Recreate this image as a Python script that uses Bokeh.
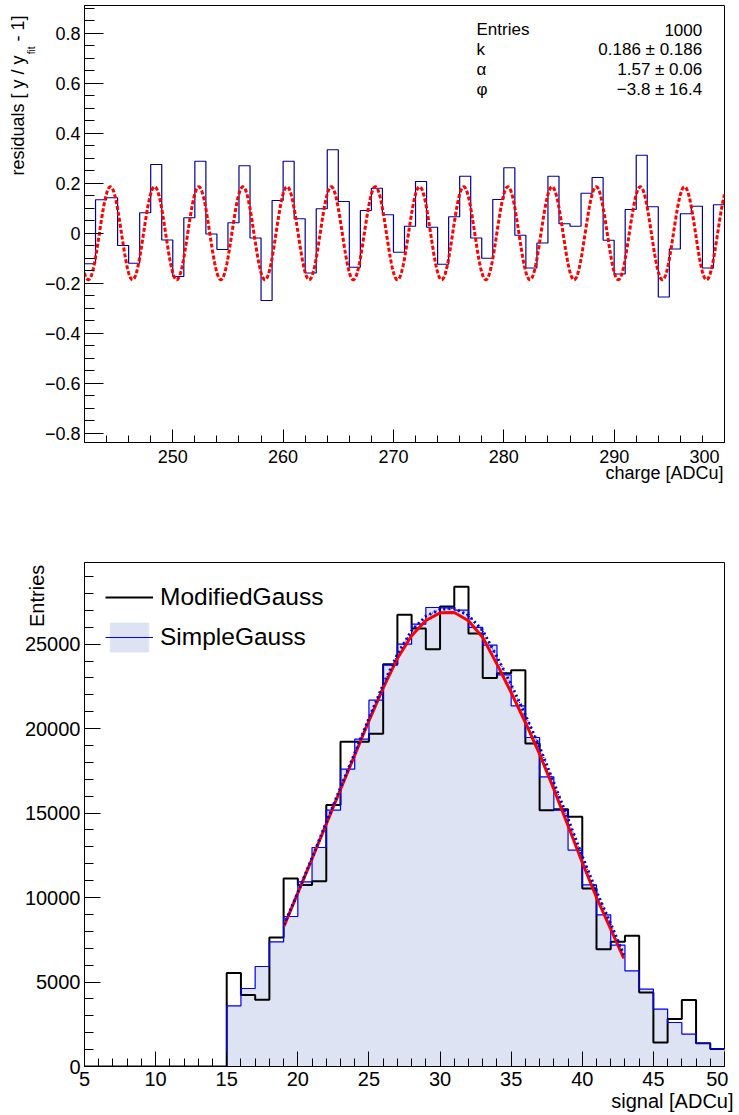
import math
from bokeh.plotting import figure
from bokeh.models import (FixedTicker, CustomJSTickFormatter, Label, Range1d,
                          Legend, LegendItem, Title)
from bokeh.layouts import column
from bokeh.embed import file_html
from bokeh.resources import INLINE

FONT = "Liberation Sans"

# ---------------- data: residual panel (top) ----------------
res_x_min = 242
res_x_max = 300
residuals = [-0.122, 0.134, 0.142, -0.049, -0.120, 0.082, 0.275, -0.027, -0.173, 0.062,
             0.288, -0.003, -0.065, 0.042, 0.270, -0.019, -0.269, 0.131, 0.288, 0.058,
             -0.159, 0.098, 0.334, 0.127, -0.136, 0.091, 0.180, 0.074, -0.076, 0.028,
             0.207, 0.024, -0.124, 0.066, 0.228, -0.019, -0.100, 0.135, 0.262, -0.008,
             -0.139, -0.039, 0.228, 0.038, 0.028, 0.160, 0.223, -0.028, -0.163, 0.095,
             0.312, 0.106, -0.255, -0.063, 0.078, 0.108, -0.139, 0.114]
stat_names = ["Entries", "k", "\u03b1", "\u03c6"]
stat_values = ["1000", "0.186 \u00b1 0.186", "1.57 \u00b1 0.06", "\u22123.8 \u00b1 16.4"]
fit_k = 0.186          # amplitude of the fitted modulation
fit_alpha = 1.57       # angular frequency of the fitted modulation
fit_peak_x = 244.35    # a maximum of the fitted curve
res_xticks = [250, 260, 270, 280, 290, 300]
res_xminor = list(range(242, 301, 2))
res_yticks = [-0.8, -0.6, -0.4, -0.2, 0.0, 0.2, 0.4, 0.6, 0.8]
res_yminor = [round(-0.85 + 0.05 * i, 2) for i in range(36)]

# ---------------- data: signal panel (bottom) ----------------
sig_edges = list(range(5, 51))
modified_gauss = [0] * 10 + [5527, 4230, 3948, 7635, 11127, 10736, 10971, 15470, 19217, 19217,
                             19690, 23815, 26734, 25924, 24702, 27226, 28391, 25630, 22987, 23281,
                             23459, 19118, 15173, 15232, 14779, 10535, 6946, 7380, 7735, 4380,
                             1420, 2805, 3929, 1370, 1030]
simple_gauss = [0] * 10 + [3592, 4617, 5919, 7380, 8878, 10931, 12962, 15173, 17600, 19375,
                           21683, 23755, 24998, 26182, 27168, 27150, 27010, 25985, 24940, 23183,
                           21348, 19472, 17146, 15173, 12807, 10754, 8978, 7185, 5664, 4580,
                           3397, 2604, 1917, 1370, 1040]
fit_x = [19.04, 20, 21, 22, 23, 24, 25, 26, 27, 28, 29, 30, 31, 32, 33, 34, 35, 36, 37, 38,
         39, 40, 41, 42, 42.92]
fit_modified = [8327, 10280, 12293, 14345, 16395, 18430, 20460, 22400, 24150, 25500,
                26400, 26850, 26870, 26380, 25390, 23814, 22136, 20361, 18489, 16416,
                14246, 12074, 10003, 8131, 6392]
fit_simple = [8400, 10300, 12350, 14450, 16500, 18550, 20600, 22600, 24400, 25800,
              26650, 27050, 27110, 26700, 25800, 24250, 22600, 20800, 18900, 16800,
              14650, 12450, 10350, 8450, 6600]
sig_xticks = [5, 10, 15, 20, 25, 30, 35, 40, 45, 50]
sig_xminor = list(range(5, 51))
sig_yticks = [0, 5000, 10000, 15000, 20000, 25000]
sig_yminor = list(range(0, 30000, 1000))


def style_axes(p, fs, xt, xm, yt, ym, xin, xmin_in, yin, ymin_in, xstand, ystand):
    for ax in (p.xaxis[0], p.yaxis[0]):
        ax.axis_label = None
        ax.axis_line_color = "black"
        ax.axis_line_width = 1
        ax.major_tick_line_color = "black"
        ax.minor_tick_line_color = "black"
        ax.major_tick_out = 0
        ax.minor_tick_out = 0
        ax.major_label_text_font = FONT
        ax.major_label_text_font_size = f"{fs}px"
        ax.major_label_text_color = "black"
    p.xaxis[0].ticker = FixedTicker(ticks=xt, minor_ticks=xm)
    p.yaxis[0].ticker = FixedTicker(ticks=yt, minor_ticks=ym)
    p.xaxis[0].major_tick_in = xin
    p.xaxis[0].minor_tick_in = xmin_in
    p.yaxis[0].major_tick_in = yin
    p.yaxis[0].minor_tick_in = ymin_in
    p.xaxis[0].major_label_standoff = xstand
    p.yaxis[0].major_label_standoff = ystand
    p.grid.grid_line_color = None
    p.outline_line_color = "black"
    p.outline_line_width = 1
    p.background_fill_color = "white"
    p.border_fill_color = "white"


def title(text, size, align, valign, offset, standoff):
    t = Title(text=text, align=align, vertical_align=valign, offset=offset,
              text_font=FONT, text_font_size=size, text_font_style="normal",
              text_color="black")
    try:
        t.standoff = standoff
    except Exception:
        t.standoff = 0
    return t


# ================= top panel =================
p1 = figure(width=739, height=490, x_range=Range1d(res_x_min, res_x_max),
            y_range=Range1d(-0.837, 0.911), output_backend="svg", toolbar_location=None,
            min_border_left=83, min_border_right=15, min_border_top=5, min_border_bottom=48)
style_axes(p1, 18, res_xticks, res_xminor, res_yticks, res_yminor, 13, 7, 19, 10, 4, 4)
p1.xaxis[0].formatter = CustomJSTickFormatter(
    code="return tick >= 300 ? tick.toFixed(0) + '\\u2007\\u2007' : tick.toFixed(0);")
p1.yaxis[0].formatter = CustomJSTickFormatter(code="""
const a = Math.abs(tick);
if (a < 1e-9) return '0';
const s = a.toFixed(1);
return tick < 0 ? '\\u2212' + s : s;
""")

res_edges = [res_x_min + i for i in range(len(residuals) + 1)]
p1.step(x=res_edges, y=residuals + [residuals[-1]], mode="after",
        line_color="#000099", line_width=1.2)

curve_x = [res_x_min + 0.05 * i for i in range(int((res_x_max - res_x_min) / 0.05) + 1)]
curve_y = [fit_k * math.cos(fit_alpha * (x - fit_peak_x)) for x in curve_x]
p1.line(curve_x, curve_y, line_color="#ff0000", line_width=3, line_dash="4 2")

# stats box
for i, (n, v) in enumerate(zip(stat_names, stat_values)):
    yy = 412.7 - 20 * i
    p1.add_layout(Label(x=392, y=yy, x_units="screen", y_units="screen", text=n,
                        text_font=FONT, text_font_size="17px", text_align="left",
                        text_baseline="middle", text_color="black"))
    p1.add_layout(Label(x=617.7, y=yy, x_units="screen", y_units="screen", text=v,
                        text_font=FONT, text_font_size="17px", text_align="right",
                        text_baseline="middle", text_color="black"))

# axis titles (top)
p1.add_layout(title("charge [ADCu]", "18px", "right", "top", 1, -14), "below")
p1.add_layout(title("fit", "10px", "right", "bottom", 41, 9), "left")
p1.add_layout(title("residuals [ y / y\u2002 - 1]", "18px", "right", "bottom", 10, -17), "left")

# ================= bottom panel =================
p2 = figure(width=739, height=625, x_range=Range1d(5, 50), y_range=Range1d(0, 29830),
            output_backend="svg", toolbar_location=None,
            min_border_left=84, min_border_right=15, min_border_top=72, min_border_bottom=49)
style_axes(p2, 20, sig_xticks, sig_xminor, sig_yticks, sig_yminor, 15, 8, 16, 9, 1, 4)
p2.xaxis[0].formatter = CustomJSTickFormatter(
    code="return tick >= 50 ? tick.toFixed(0) + '\\u2007' : tick.toFixed(0);")
p2.yaxis[0].formatter = CustomJSTickFormatter(code="return tick.toFixed(0);")

FILL = "#dee3f3"
r_fill = p2.quad(left=sig_edges[:-1], right=sig_edges[1:], top=simple_gauss, bottom=0,
                 fill_color=FILL, line_color=FILL, line_width=1)
r_black = p2.step(x=sig_edges, y=modified_gauss + [modified_gauss[-1]], mode="after",
                  line_color="black", line_width=2)
r_blue = p2.step(x=sig_edges, y=simple_gauss + [simple_gauss[-1]], mode="after",
                 line_color="#0000ff", line_width=1.2)
p2.line(fit_x, fit_modified, line_color="#ff0000", line_width=3)
p2.line(fit_x, fit_simple, line_color="#0000ff", line_width=3, line_dash="2 3")
p2.line(fit_x, fit_simple, line_color="black", line_width=1, line_dash="1 3")

legend = Legend(items=[LegendItem(label="ModifiedGauss", renderers=[r_black]),
                       LegendItem(label="SimpleGauss", renderers=[r_fill, r_blue])],
                location=(21, 411), orientation="vertical",
                glyph_width=48, glyph_height=36, label_standoff=7, spacing=4,
                padding=0, margin=0, label_text_font=FONT, label_text_font_size="24.5px",
                label_text_color="black", label_height=36,
                border_line_color=None, background_fill_alpha=0)
p2.add_layout(legend)

p2.add_layout(title("signal [ADCu]", "20px", "right", "top", -9, -6), "below")

# y title of the lower panel: placed at the top end of the axis, close to the tick labels
yax = p2.yaxis[0]
aligned = False
for val in ("end", "right"):
    try:
        yax.axis_label_align = val
        aligned = True
        break
    except Exception:
        pass
if aligned:
    # the label is centred on the top end of the axis; trailing figure spaces move
    # the visible word below that end, as in the reference
    yax.axis_label = "Entries" + "\u2007" * 6
    yax.axis_label_standoff = -26
    yax.axis_label_text_font = FONT
    yax.axis_label_text_font_size = "20px"
    yax.axis_label_text_font_style = "normal"
    yax.axis_label_text_color = "black"
else:
    p2.add_layout(title("Entries", "20px", "right", "bottom", 0, -18), "left")

layout = column(p1, p2, spacing=0)
with open("out.html", "w", encoding="utf-8") as f:
    f.write(file_html(layout, INLINE))
